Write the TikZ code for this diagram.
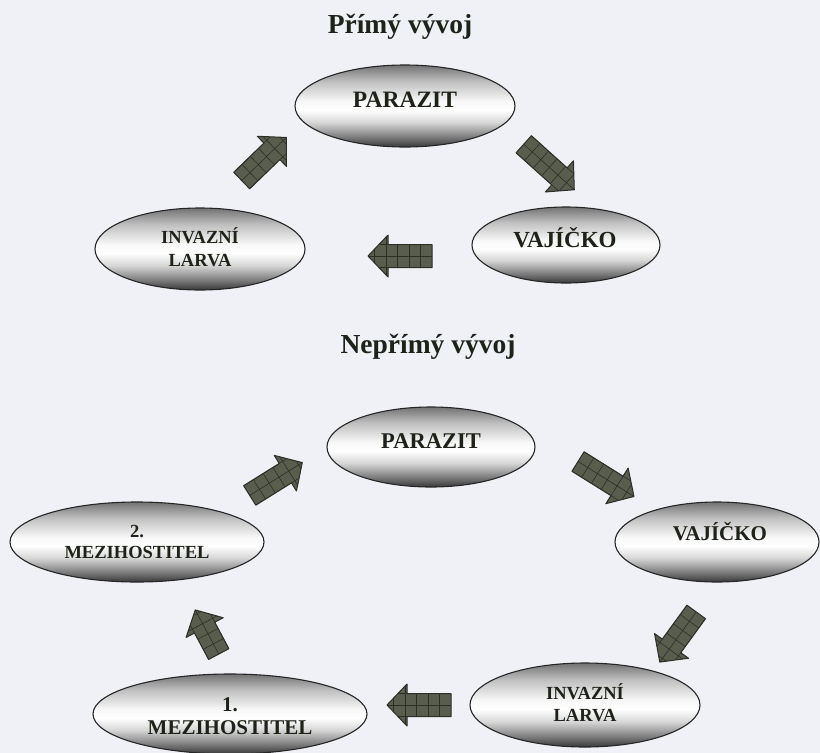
\documentclass[tikz,border=0pt]{standalone}
\usepackage{fontspec}
\setmainfont{Liberation Serif}
\usetikzlibrary{shapes.geometric,calc}
\definecolor{bg}{HTML}{EFF1F6}
\definecolor{ink}{HTML}{1E2319}
\definecolor{arrfill}{HTML}{585D4D}
\definecolor{arrline}{HTML}{2B2F26}
\pgfdeclareverticalshading{blobshade}{100bp}{color(0bp)=(black!78); color(25bp)=(black!78); color(31bp)=(black!52); color(40bp)=(black!16); color(47.5bp)=(white); color(53bp)=(black!3); color(65bp)=(black!25); color(75bp)=(black!55); color(100bp)=(black!55)}
\tikzset{
  blob/.style={ellipse, draw=black!85, line width=1.1pt, shade, shading=blobshade, inner sep=0pt},
  lbl/.style={text=ink, align=center, inner sep=0pt},
  ttl/.style={text=ink, inner sep=0pt, font=\bfseries\fontsize{27.5}{32}\selectfont},
  gridl/.style={draw=arrline, line width=0.6pt},
  arrout/.style={draw=arrline, line width=1pt, fill=arrfill, line join=round}
}
% #1 name, #2 position, #3 angle, #4 length
\newcommand\blockarr[4]{%
  \begin{scope}[shift={#2}, rotate=#3]
    \coordinate (#1) at (0,0);
    \pgfmathsetmacro\hl{#4/2}
    \pgfmathsetmacro\hb{#4/2-20}
    \path[arrout, path picture={
        \foreach \k in {1,...,7} \draw[gridl] ({-\hl+\k*11.5},-30) -- ++(0,60);
        \foreach \yy in {-23,-11.5,0,11.5,23} \draw[gridl] (-\hl,\yy) -- (\hl,\yy);
      }]
      (-\hl,-11.5) -- (\hb,-11.5) -- (\hb,-21) -- (\hl,0) -- (\hb,21) -- (\hb,11.5) -- (-\hl,11.5) -- cycle;
  \end{scope}}
\begin{document}
\begin{tikzpicture}[x=1pt,y=-1pt]
\useasboundingbox (0,0) rectangle (820,753);
\fill[bg] (0,0) rectangle (820,753);

% titles
\node[ttl, anchor=base] (t1) at (400,33) {Přímý vývoj};
\node[ttl, anchor=base] (t2) at (428,353) {Nepřímý vývoj};

% direct cycle
\node[blob, minimum width=220pt, minimum height=82pt] (par1) at (405,106) {};
\node[blob, minimum width=210pt, minimum height=82pt] (lar1) at (200,249) {};
\node[blob, minimum width=188pt, minimum height=76pt] (vaj1) at (566,245) {};

\node[lbl, anchor=base, font=\bfseries\fontsize{23.5}{28}\selectfont] (par1t) at ($(par1.center)+(0,1)$) {PARAZIT};
\node[lbl, font=\bfseries\fontsize{18.5}{23}\selectfont] (lar1t) at ($(lar1.center)+(0,-2)$) {INVAZNÍ\\LARVA};
\node[lbl, anchor=base, font=\bfseries\fontsize{23}{27}\selectfont] (vaj1t) at ($(vaj1.center)+(-1,2)$) {VAJÍČKO};

% indirect cycle
\node[blob, minimum width=208pt, minimum height=80pt] (par2) at (431,447) {};
\node[blob, minimum width=204pt, minimum height=80pt] (vaj2) at (717,542) {};
\node[blob, minimum width=230pt, minimum height=84pt] (lar2) at (585,705) {};
\node[blob, minimum width=274pt, minimum height=80pt] (mez1) at (230,714) {};
\node[blob, minimum width=254pt, minimum height=80pt] (mez2) at (137,542) {};

\node[lbl, anchor=base, font=\bfseries\fontsize{22.5}{27}\selectfont] (par2t) at ($(par2.center)+(0,1)$) {PARAZIT};
\node[lbl, anchor=base, font=\bfseries\fontsize{21}{25}\selectfont] (vaj2t) at ($(vaj2.center)+(3,-2)$) {VAJÍČKO};
\node[lbl, font=\bfseries\fontsize{18.5}{22}\selectfont] (lar2t) at ($(lar2.center)+(0,-2)$) {INVAZNÍ\\LARVA};
\node[lbl, font=\bfseries\fontsize{21}{23}\selectfont] (mez1t) at ($(mez1.center)+(0,2)$) {1.\\MEZIHOSTITEL};
\node[lbl, font=\bfseries\fontsize{18.5}{21}\selectfont] (mez2t) at ($(mez2.center)+(0,0)$) {2.\\MEZIHOSTITEL};

% block arrows
\blockarr{a1}{(264,159)}{44}{62}
\blockarr{a2}{(549,167)}{-42}{68}
\blockarr{a3}{(400,256)}{180}{64}
\blockarr{b1}{(276,479)}{32}{62}
\blockarr{b2}{(606,479)}{-32}{66}
\blockarr{b3}{(678,637)}{234}{62}
\blockarr{b4}{(419,705)}{180}{64}
\blockarr{b5}{(207,632)}{118}{50}
\end{tikzpicture}
\end{document}
